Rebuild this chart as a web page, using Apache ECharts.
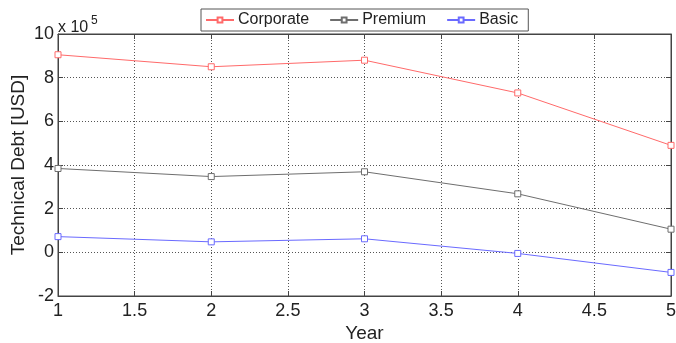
<!DOCTYPE html>
<html>
<head>
<meta charset="utf-8">
<script src="https://cdn.jsdelivr.net/npm/echarts@6/dist/echarts.min.js"></script>
<style>
  html, body { margin: 0; padding: 0; background: #fff; }
  #chart { width: 676px; height: 343px; }
</style>
</head>
<body>
<div id="chart"></div>
<script>
// Technical debt per year for each plan (USD)
const years = [1, 2, 3, 4, 5];
const corporate = [905000, 850000, 880000, 730000, 490000];
const premium = [384000, 347000, 369000, 268000, 106000];
const basic = [72000, 48000, 62000, -5000, -92000];
const seriesNames = ['Corporate', 'Premium', 'Basic'];
const seriesColors = ['#ff6a6a', '#6e6e6e', '#6a6aff'];

const font = 'Liberation Sans, Arial, sans-serif';
const chart = echarts.init(document.getElementById('chart'));

const pair = (vals) => years.map((x, i) => [x, vals[i]]);
const gridLine = { show: true, lineStyle: { color: '#555', type: [1, 2], width: 1 } };
const frameLine = { show: true, onZero: false, lineStyle: { color: '#444', width: 1 } };
const innerTick = { show: true, inside: true, length: 5, lineStyle: { color: '#444' } };

function lineSeries(name, vals, color) {
  return {
    name: name,
    type: 'line',
    data: pair(vals),
    symbol: 'rect',
    symbolSize: 6,
    itemStyle: { color: '#fff', borderColor: color, borderWidth: 1 },
    lineStyle: { color: color, width: 1 },
    emphasis: { disabled: true },
    animation: false
  };
}

chart.setOption({
  animation: false,
  backgroundColor: '#fff',
  grid: {
    left: 58, right: 5, top: 34, bottom: 47,
    outerBoundsMode: 'none', containLabel: false,
    show: true, borderColor: '#444', borderWidth: 1
  },
  legend: {
    data: seriesNames,
    top: 9,
    left: 201,
    itemGap: 20,
    itemWidth: 28,
    itemHeight: 6,
    padding: [3, 10, 3, 4],
    borderColor: '#555',
    borderWidth: 1,
    textStyle: { fontFamily: font, fontSize: 16, color: '#222', padding: [0, 0, 0, -1] }
  },
  xAxis: [{
    type: 'value',
    min: 1, max: 5, interval: 0.5,
    name: 'Year',
    nameLocation: 'middle',
    nameGap: 28,
    nameMoveOverlap: false,
    nameTextStyle: { fontFamily: font, fontSize: 19, color: '#222' },
    axisLine: frameLine,
    axisTick: innerTick,
    axisLabel: { fontFamily: font, fontSize: 18, color: '#222', margin: 6 },
    splitLine: gridLine
  }, {
    type: 'value', position: 'top',
    min: 1, max: 5, interval: 0.5,
    axisLine: frameLine,
    axisTick: innerTick,
    axisLabel: { show: false },
    splitLine: { show: false }
  }],
  yAxis: [{
    type: 'value',
    min: -200000, max: 1000000, interval: 200000,
    name: 'Technical Debt [USD]',
    nameLocation: 'middle',
    nameGap: 30,
    nameMoveOverlap: false,
    nameTextStyle: { fontFamily: font, fontSize: 19, color: '#222' },
    axisLine: frameLine,
    axisTick: innerTick,
    axisLabel: { fontFamily: font, fontSize: 18, color: '#222', margin: 4, formatter: (v) => String(Math.round(v / 100000)) },
    splitLine: gridLine
  }, {
    type: 'value', position: 'right',
    min: -200000, max: 1000000, interval: 200000,
    axisLine: frameLine,
    axisTick: innerTick,
    axisLabel: { show: false },
    splitLine: { show: false }
  }],
  graphic: [{
    type: 'text',
    x: 58, y: 36,
    style: { text: 'x 10', font: '16px ' + font, fill: '#222', verticalAlign: 'bottom' }
  }, {
    type: 'text',
    x: 91, y: 27,
    style: { text: '5', font: '12px ' + font, fill: '#222', verticalAlign: 'bottom' }
  }],
  series: [
    lineSeries(seriesNames[0], corporate, seriesColors[0]),
    lineSeries(seriesNames[1], premium, seriesColors[1]),
    lineSeries(seriesNames[2], basic, seriesColors[2])
  ]
});
</script>
</body>
</html>
